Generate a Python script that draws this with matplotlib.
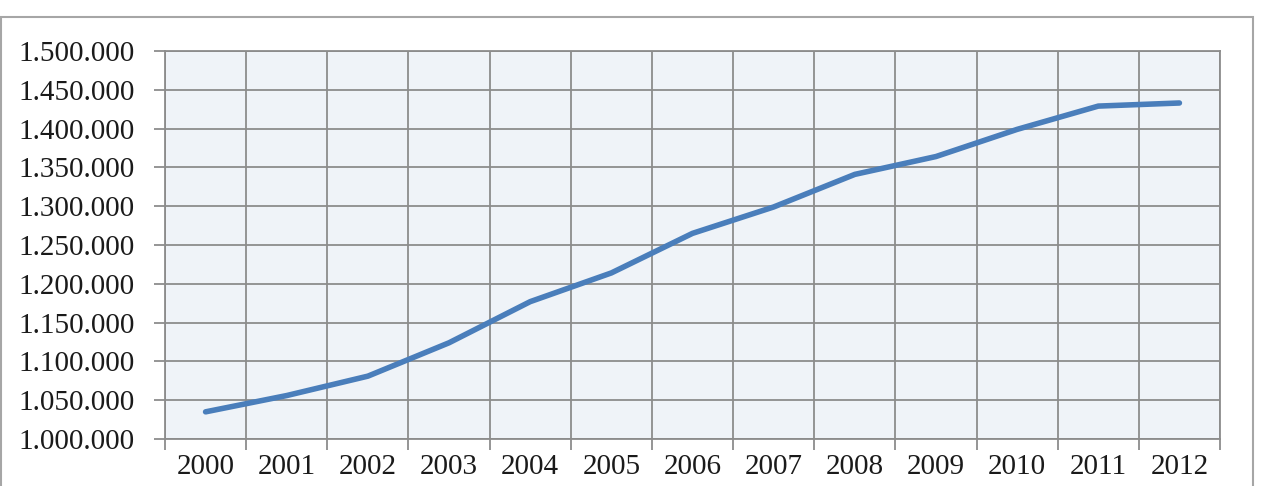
import matplotlib
matplotlib.use('Agg')
import matplotlib.pyplot as plt
from matplotlib.patches import Rectangle
from matplotlib.ticker import FuncFormatter, FixedLocator

# ─────────────────────────────────────────────
# Data
# ─────────────────────────────────────────────
years = ['2000', '2001', '2002', '2003', '2004', '2005', '2006',
         '2007', '2008', '2009', '2010', '2011', '2012']
values = [1035000, 1056000, 1081000, 1124000, 1177000, 1214000, 1265000,
          1299000, 1341000, 1364000, 1399000, 1429000, 1433000]
y_ticks = list(range(1000000, 1500001, 50000))

GRID = '#8C8C8C'
LINE = '#4A7EBB'
FONT = 'Liberation Serif'


def dotted(v, _pos=None):
    return f'{int(v):,}'.replace(',', '.')


fig = plt.figure(figsize=(12.61, 4.86), dpi=100)
ax = fig.add_axes([165 / 1261, 1 - 439 / 486, (1220 - 165) / 1261, (439 - 51) / 486])
ax.set_facecolor('#EFF3F8')

x = list(range(len(years)))
ax.plot(x, values, color=LINE, lw=4.0, solid_capstyle='round', zorder=3)

ax.set_xlim(-0.5, len(years) - 0.5)
ax.set_ylim(y_ticks[0], y_ticks[-1])

# category boundaries carry the gridlines, centres carry the labels
ax.xaxis.set_major_locator(FixedLocator([i - 0.5 for i in range(len(years) + 1)]))
ax.xaxis.set_major_formatter(FuncFormatter(lambda v, p: ''))
ax.xaxis.set_minor_locator(FixedLocator(x))
ax.set_xticklabels(years, minor=True)
ax.tick_params(axis='x', which='minor', length=0, pad=11)
ax.tick_params(axis='x', which='major', length=8, width=1.3, color=GRID)

ax.set_yticks(y_ticks)
ax.yaxis.set_major_formatter(FuncFormatter(dotted))
ax.tick_params(axis='y', length=8, width=1.3, color=GRID, pad=14)

for lab in ax.get_xticklabels(minor=True) + ax.get_yticklabels():
    lab.set_fontfamily(FONT)
    lab.set_fontsize(21)
    lab.set_color('#1A1A1A')

ax.grid(True, which='major', color=GRID, lw=1.3, zorder=1)
ax.set_axisbelow(True)
for sp in ax.spines.values():
    sp.set_color(GRID)
    sp.set_linewidth(1.3)

# outer chart border (bottom edge falls outside the image)
fig.patches.append(Rectangle((1 / 1261, -0.05), 1252 / 1261, 1 - 17 / 486 + 0.05,
                             transform=fig.transFigure, fill=False,
                             edgecolor='#A6A6A6', lw=1.5))

fig.savefig('out.png', dpi=100)
